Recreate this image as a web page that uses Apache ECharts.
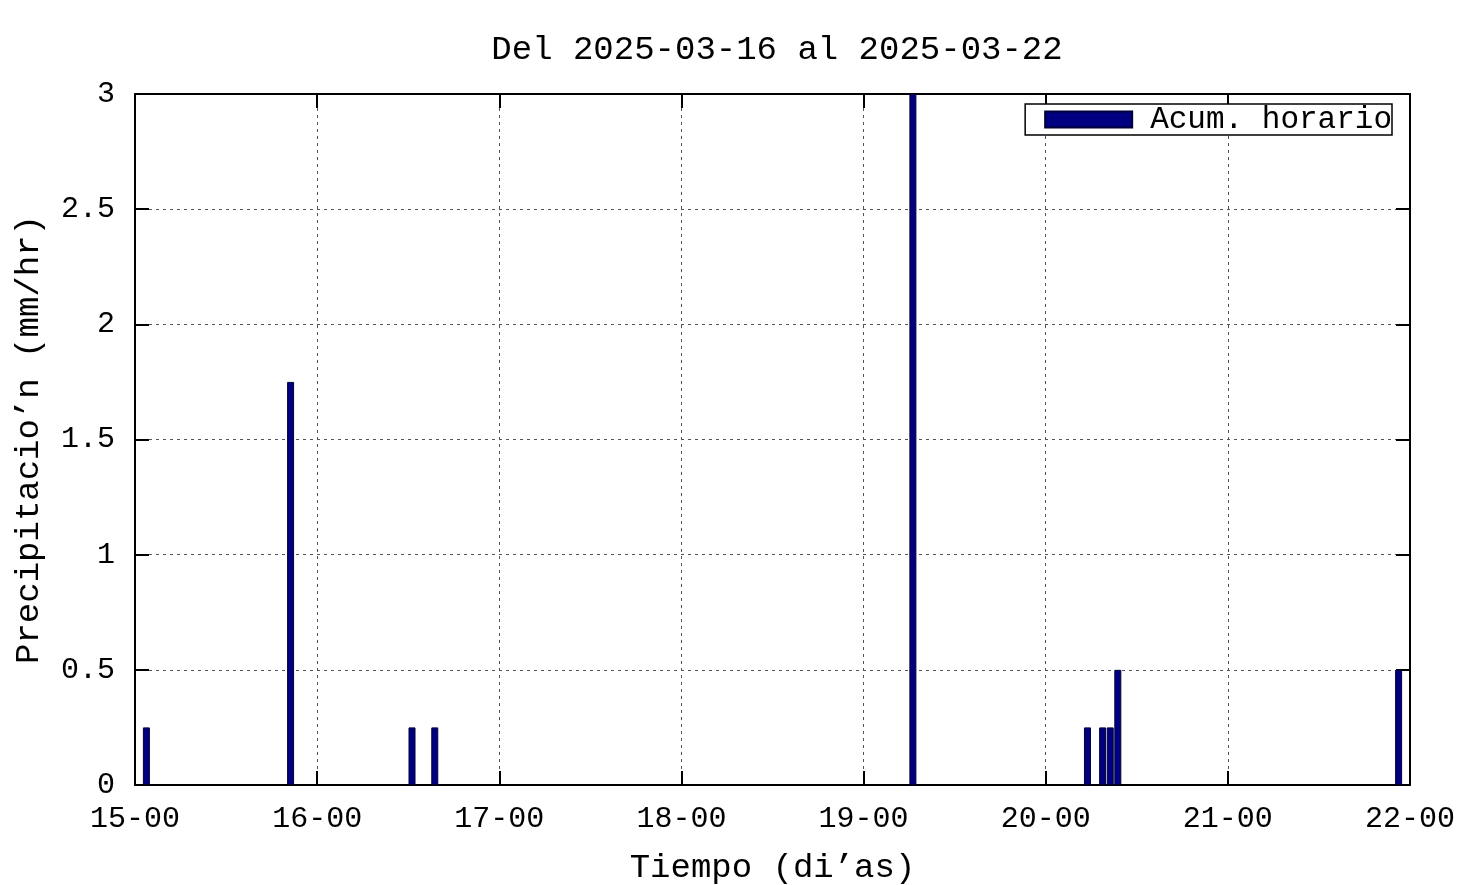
<!DOCTYPE html>
<html>
<head>
<meta charset="utf-8">
<script src="https://cdn.jsdelivr.net/npm/echarts@6/dist/echarts.min.js"></script>
<style>
html,body{margin:0;padding:0;background:#fff;}
#chart{width:1476px;height:885px;}
</style>
</head>
<body>
<div id="chart"></div>
<script>
// Hours since 2025-03-15 00:00 (bar centers) and hourly accumulations (mm/hr)
const hours = [1.5, 20.5, 36.5, 39.5, 102.5, 125.5, 127.5, 128.5, 129.5, 166.5];
const rain  = [0.25, 1.75, 0.25, 0.25, 3.0, 0.25, 0.25, 0.25, 0.5, 0.5];
const xTickLabels = ['15-00','16-00','17-00','18-00','19-00','20-00','21-00','22-00'];
const titleText = 'Del 2025-03-16 al 2025-03-22';
const seriesName = 'Acum. horario';

const FONT = '"Liberation Mono", "DejaVu Sans Mono", monospace';
const FS = 30;
const FS_BIG = 34;

const chart = echarts.init(document.getElementById('chart'), null, {renderer: 'canvas'});
const gridLine = () => ({show: true, lineStyle: {color: '#555', type: [3, 4], width: 1}});
const tick = () => ({show: true, inside: true, length: 14, lineStyle: {color: '#000', width: 2}});
const border = () => ({show: true, onZero: false, lineStyle: {color: '#000', width: 2}});
const option = {
  backgroundColor: '#fff',
  animation: false,
  title: {
    text: titleText,
    left: 772, top: 28, textAlign: 'center',
    textStyle: {fontFamily: FONT, fontSize: FS_BIG, fontWeight: 'normal', color: '#000'}
  },
  legend: {
    data: [{name: seriesName, icon: 'rect'}],
    right: 84, top: 104,
    itemWidth: 87, itemHeight: 16, itemGap: 10,
    padding: [0, 0, 0, 19],
    backgroundColor: '#fff', borderColor: '#000', borderWidth: 1.5, borderRadius: 0,
    textStyle: {fontFamily: FONT, fontSize: 31, lineHeight: 31, color: '#000', padding: [0, 0, 0, 13]}
  },
  grid: {left: 135, right: 66, top: 94, bottom: 100, containLabel: false, outerBoundsMode: 'none'},
  xAxis: [{
    type: 'value', min: 0, max: 168, interval: 24, z: 1,
    name: 'Tiempo (di\u2019as)', nameLocation: 'middle', nameGap: 66,
    nameTextStyle: {fontFamily: FONT, fontSize: FS_BIG, color: '#000'},
    axisLine: border(), axisTick: tick(),
    axisLabel: {fontFamily: FONT, fontSize: FS, color: '#000', margin: 19,
      formatter: v => xTickLabels[Math.round(v / 24)]},
    splitLine: {show: false}
  }, {
    type: 'value', position: 'top', min: 0, max: 168, interval: 24, z: 0,
    axisLine: border(), axisTick: tick(),
    axisLabel: {show: false}, splitLine: gridLine()
  }],
  yAxis: [{
    type: 'value', min: 0, max: 3, interval: 0.5, z: 1,
    name: 'Precipitacio\u2019n (mm/hr)', nameLocation: 'middle', nameGap: 89, nameRotate: 90,
    nameTextStyle: {fontFamily: FONT, fontSize: FS_BIG, color: '#000'},
    axisLine: border(), axisTick: tick(),
    axisLabel: {fontFamily: FONT, fontSize: FS, color: '#000', margin: 20},
    splitLine: {show: false}
  }, {
    type: 'value', position: 'right', min: 0, max: 3, interval: 0.5, z: 0,
    axisLine: border(), axisTick: tick(),
    axisLabel: {show: false}, splitLine: gridLine()
  }],
  series: [{
    name: seriesName,
    type: 'bar',
    xAxisIndex: 0, yAxisIndex: 0,
    barWidth: 7,
    data: hours.map((h, i) => [h, rain[i]]),
    itemStyle: {color: '#000080', borderColor: '#00003a', borderWidth: 1},
    clip: true
  }]
};
chart.setOption(option);
</script>
</body>
</html>
